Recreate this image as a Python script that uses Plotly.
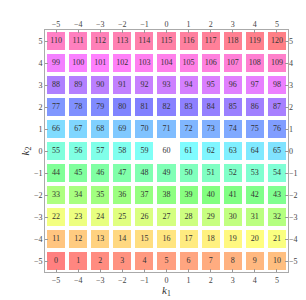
import colorsys
import plotly.graph_objects as go

k1_vals = [-5, -4, -3, -2, -1, 0, 1, 2, 3, 4, 5]
k2_vals = [-5, -4, -3, -2, -1, 0, 1, 2, 3, 4, 5]
# cell index n = 11*(k2+5) + (k1+5); centre cell (n=60) has no square
missing = [60]
tick_vals = [-5, -4, -3, -2, -1, 0, 1, 2, 3, 4, 5]

n_max = len(k1_vals) * len(k2_vals)

def col(n):
    r, g, b = colorsys.hsv_to_rgb(n / n_max, 1, 1)
    r, g, b = [0.5 + 0.5 * c for c in (r, g, b)]
    return "rgb(%d,%d,%d)" % (round(r * 255), round(g * 255), round(b * 255))

z = []
xs, ys, txt = [], [], []
for j, k2 in enumerate(k2_vals):
    row = []
    for i, k1 in enumerate(k1_vals):
        n = j * len(k1_vals) + i
        row.append(None if n in missing else n)
        xs.append(k1)
        ys.append(k2)
        txt.append(str(n))
    z.append(row)

cscale = [[n / (n_max - 1), col(n)] for n in range(n_max)]

fig = go.Figure()
fig.add_trace(go.Heatmap(x=k1_vals, y=k2_vals, z=z, colorscale=cscale,
                         zmin=0, zmax=n_max - 1, showscale=False,
                         xgap=4, ygap=4, hoverinfo="skip"))
fig.add_trace(go.Scatter(x=xs, y=ys, text=txt, mode="text",
                         textfont=dict(family="Liberation Serif", size=8, color="#333"),
                         hoverinfo="skip", showlegend=False))
fig.add_trace(go.Scatter(x=[0], y=[0], xaxis="x2", yaxis="y2", mode="markers",
                         marker=dict(opacity=0), hoverinfo="skip", showlegend=False))

axis_common = dict(range=[-5.5, 5.5], tickvals=tick_vals, ticks="inside", ticklen=3,
                   tickcolor="#999", tickwidth=1, showgrid=False, zeroline=False,
                   tickfont=dict(family="Liberation Serif", size=8, color="#444"))

fig.update_layout(
    width=306, height=300,
    margin=dict(l=37, r=26, t=20, b=36),
    paper_bgcolor="white", plot_bgcolor="white",
    showlegend=False,
    xaxis=dict(**axis_common, showline=True, linecolor="#aaa", mirror=True),
    yaxis=dict(**axis_common, showline=True, linecolor="#aaa", mirror=True,
               title=dict(text="<i>k</i><sub>2</sub>", standoff=2,
                          font=dict(family="Liberation Serif", size=11, color="#333"))),
    xaxis2=dict(**axis_common, overlaying="x", side="top", matches="x"),
    yaxis2=dict(**axis_common, overlaying="y", side="right", matches="y"),
    annotations=[dict(text="<i>k</i><sub>1</sub>", xref="paper", yref="paper",
                      x=0.5, y=-0.078, xanchor="center", yanchor="middle",
                      showarrow=False,
                      font=dict(family="Liberation Serif", size=11, color="#333"))],
)

fig.write_html("out.html")
